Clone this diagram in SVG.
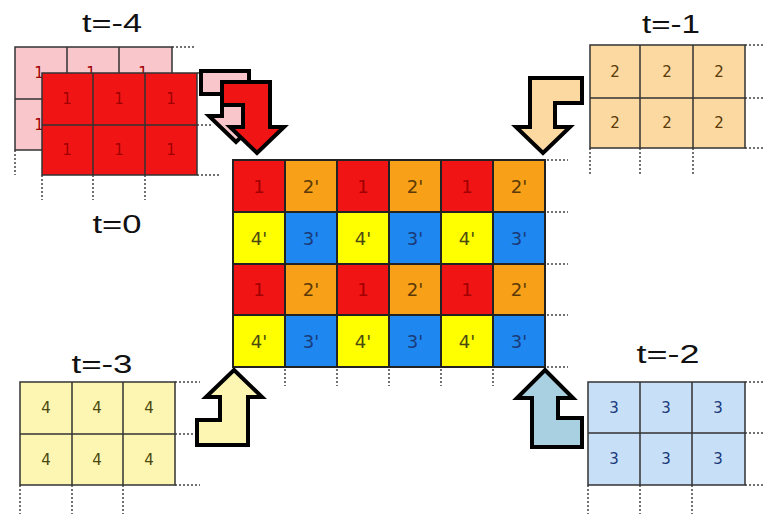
<svg xmlns="http://www.w3.org/2000/svg" width="763" height="514" viewBox="0 0 763 514">
<style>
.lbl{font-family:"Liberation Sans",Arial,sans-serif;font-size:26px;fill:#111;text-anchor:middle}
.num{font-family:"DejaVu Sans","Liberation Sans",sans-serif;font-size:15px;text-anchor:middle;dominant-baseline:central}
.big{font-family:"DejaVu Sans","Liberation Sans",sans-serif;font-size:18px;text-anchor:middle;dominant-baseline:central}
.gl{stroke:#333;stroke-width:1.5;fill:none}
.cl{stroke:#222;stroke-width:2;fill:none}
.dot{stroke:#444;stroke-width:1.5;stroke-dasharray:2 2;fill:none}
.arr{stroke:#000;stroke-width:4;stroke-linejoin:miter}
.r{fill:#f01414}.o{fill:#f8a018}.y{fill:#ffff00}.b{fill:#1e88f0}
.tr{fill:#a00000}.to{fill:#5a3a08}.ty{fill:#4a4a10}.tb{fill:#1a3a78}
</style>
<rect width="763" height="514" fill="#fff"/>

<!-- t=-4 grid (pink, behind) -->
<g id="grid-t-4">
  <text class="lbl" x="112" y="32" textLength="60" lengthAdjust="spacingAndGlyphs">t=-4</text>
  <path class="dot" d="M172 47H195M15 150V175"/>
  <rect x="15" y="47" width="157" height="103" fill="#f9c6cc"/>
  <path class="gl" d="M15 47H172V150H15ZM67 47V150M119 47V150M15 99H172"/>
  <text class="num tr" x="39" y="73">1</text>
  <text class="num tr" x="91" y="73">1</text>
  <text class="num tr" x="143" y="73">1</text>
  <text class="num tr" x="39" y="125">1</text>
</g>

<!-- t=0 grid (red, front) -->
<g id="grid-t0">
  <path class="dot" d="M197 73H220M197 125H212M197 175H220M42 175V200M93 175V200M145 175V200"/>
  <rect x="42" y="73" width="155" height="102" class="r"/>
  <path class="gl" d="M42 73H197V175H42ZM93 73V175M145 73V175M42 125H197"/>
  <text class="num tr" x="67" y="99">1</text>
  <text class="num tr" x="119" y="99">1</text>
  <text class="num tr" x="171" y="99">1</text>
  <text class="num tr" x="67" y="150">1</text>
  <text class="num tr" x="119" y="150">1</text>
  <text class="num tr" x="171" y="150">1</text>
  <text class="lbl" x="117" y="233" textLength="49" lengthAdjust="spacingAndGlyphs">t=0</text>
</g>

<!-- t=-1 grid -->
<g id="grid-t-1">
  <text class="lbl" x="671" y="33" textLength="58" lengthAdjust="spacingAndGlyphs">t=-1</text>
  <path class="dot" d="M745 45H763M745 98H763M745 148H763M590 148V176M640 148V176M693 148V176"/>
  <rect x="590" y="45" width="155" height="103" fill="#fcd9a0"/>
  <path class="gl" d="M590 45H745V148H590ZM640 45V148M693 45V148M590 98H745"/>
  <text class="num to" x="615" y="72">2</text>
  <text class="num to" x="667" y="72">2</text>
  <text class="num to" x="719" y="72">2</text>
  <text class="num to" x="615" y="123">2</text>
  <text class="num to" x="667" y="123">2</text>
  <text class="num to" x="719" y="123">2</text>
</g>

<!-- t=-3 grid -->
<g id="grid-t-3">
  <text class="lbl" x="102" y="373" textLength="61" lengthAdjust="spacingAndGlyphs">t=-3</text>
  <path class="dot" d="M175 382H200M175 434H200M175 485H200M20 485V514M72 485V514M123 485V514"/>
  <rect x="20" y="382" width="155" height="103" fill="#fdf6b2"/>
  <path class="gl" d="M20 382H175V485H20ZM72 382V485M123 382V485M20 434H175"/>
  <text class="num ty" x="46" y="408">4</text>
  <text class="num ty" x="97" y="408">4</text>
  <text class="num ty" x="149" y="408">4</text>
  <text class="num ty" x="46" y="460">4</text>
  <text class="num ty" x="97" y="460">4</text>
  <text class="num ty" x="149" y="460">4</text>
</g>

<!-- t=-2 grid -->
<g id="grid-t-2">
  <text class="lbl" x="668" y="363" textLength="63" lengthAdjust="spacingAndGlyphs">t=-2</text>
  <path class="dot" d="M745 382H763M745 433H763M745 485H763M588 485V514M640 485V514M692 485V514"/>
  <rect x="588" y="382" width="157" height="103" fill="#c8dff8"/>
  <path class="gl" d="M588 382H745V485H588ZM640 382V485M692 382V485M588 433H745"/>
  <text class="num tb" x="614" y="408">3</text>
  <text class="num tb" x="666" y="408">3</text>
  <text class="num tb" x="718" y="408">3</text>
  <text class="num tb" x="614" y="459">3</text>
  <text class="num tb" x="666" y="459">3</text>
  <text class="num tb" x="718" y="459">3</text>
</g>

<!-- central interleaved grid -->
<g id="grid-center">
  <path class="dot" d="M547 160H568M547 212H568M547 264H568M547 315H568M547 367H568M285 369V386M337 369V386M389 369V386M441 369V386M493 369V386"/>
  <rect x="233" y="160" width="52" height="52" class="r"/><rect x="285" y="160" width="52" height="52" class="o"/>
  <rect x="337" y="160" width="52" height="52" class="r"/><rect x="389" y="160" width="52" height="52" class="o"/>
  <rect x="441" y="160" width="52" height="52" class="r"/><rect x="493" y="160" width="52" height="52" class="o"/>
  <rect x="233" y="212" width="52" height="52" class="y"/><rect x="285" y="212" width="52" height="52" class="b"/>
  <rect x="337" y="212" width="52" height="52" class="y"/><rect x="389" y="212" width="52" height="52" class="b"/>
  <rect x="441" y="212" width="52" height="52" class="y"/><rect x="493" y="212" width="52" height="52" class="b"/>
  <rect x="233" y="264" width="52" height="51" class="r"/><rect x="285" y="264" width="52" height="51" class="o"/>
  <rect x="337" y="264" width="52" height="51" class="r"/><rect x="389" y="264" width="52" height="51" class="o"/>
  <rect x="441" y="264" width="52" height="51" class="r"/><rect x="493" y="264" width="52" height="51" class="o"/>
  <rect x="233" y="315" width="52" height="52" class="y"/><rect x="285" y="315" width="52" height="52" class="b"/>
  <rect x="337" y="315" width="52" height="52" class="y"/><rect x="389" y="315" width="52" height="52" class="b"/>
  <rect x="441" y="315" width="52" height="52" class="y"/><rect x="493" y="315" width="52" height="52" class="b"/>
  <path class="cl" d="M233 160H545V367H233ZM285 160V367M337 160V367M389 160V367M441 160V367M493 160V367M233 212H545M233 264H545M233 315H545"/>
  <text class="big tr" x="259" y="186">1</text><text class="big to" x="311" y="186">2'</text>
  <text class="big tr" x="363" y="186">1</text><text class="big to" x="415" y="186">2'</text>
  <text class="big tr" x="467" y="186">1</text><text class="big to" x="519" y="186">2'</text>
  <text class="big ty" x="259" y="238">4'</text><text class="big tb" x="311" y="238">3'</text>
  <text class="big ty" x="363" y="238">4'</text><text class="big tb" x="415" y="238">3'</text>
  <text class="big ty" x="467" y="238">4'</text><text class="big tb" x="519" y="238">3'</text>
  <text class="big tr" x="259" y="289">1</text><text class="big to" x="311" y="289">2'</text>
  <text class="big tr" x="363" y="289">1</text><text class="big to" x="415" y="289">2'</text>
  <text class="big tr" x="467" y="289">1</text><text class="big to" x="519" y="289">2'</text>
  <text class="big ty" x="259" y="341">4'</text><text class="big tb" x="311" y="341">3'</text>
  <text class="big ty" x="363" y="341">4'</text><text class="big tb" x="415" y="341">3'</text>
  <text class="big ty" x="467" y="341">4'</text><text class="big tb" x="519" y="341">3'</text>
</g>

<!-- connectors: block arrows -->
<g id="connectors">
  <polygon class="arr" fill="#f9c6cc" points="201,71 249,71 249,116 263,116 236,142 209,116 222,116 222,94 201,94"/>
  <polygon class="arr" fill="#f01414" points="222,82 270,82 270,127 284,127 257,153 230,127 243,127 243,105 222,105"/>
  <polygon class="arr" fill="#fcd9a0" points="530,78 582,78 582,103 555,103 555,127 570,127 543,153 516,127 530,127"/>
  <polygon class="arr" fill="#fdf6b2" points="234,370 262,397 248,397 248,445 197,445 197,420 220,420 220,397 206,397"/>
  <polygon class="arr" fill="#a8d0e0" points="545,370 573,398 558,398 558,418 582,418 582,447 532,447 532,398 517,398"/>
</g>
</svg>
